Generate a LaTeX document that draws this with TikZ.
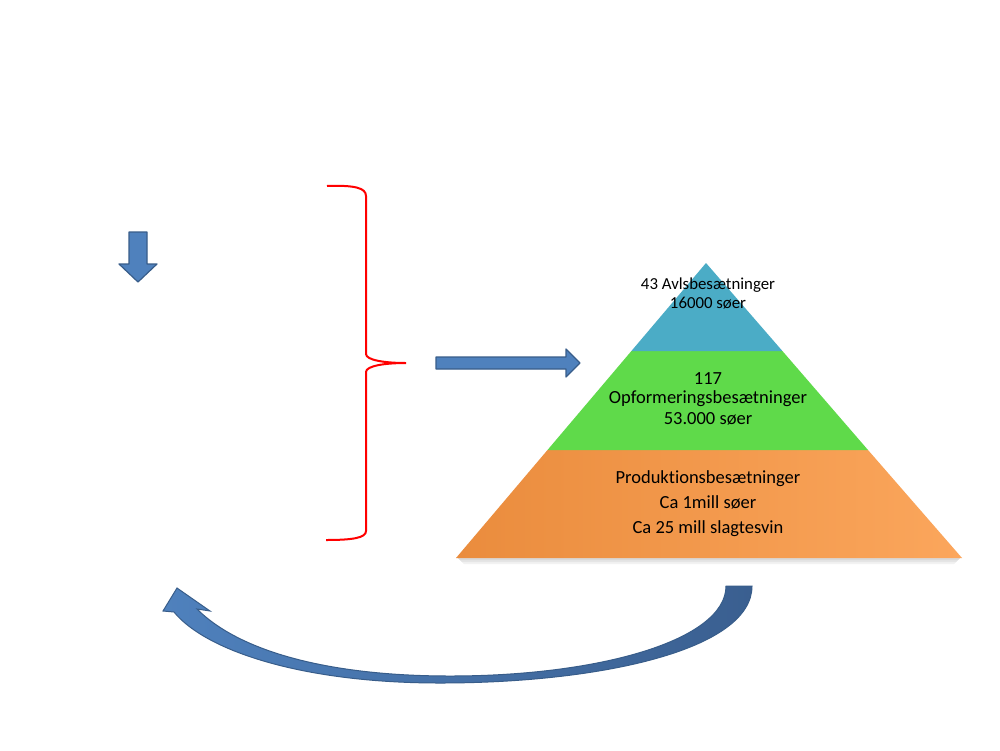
\documentclass[tikz,border=0pt]{standalone}
\usepackage{fontspec}
\setmainfont{Carlito}[Ligatures=NoCommon]
\definecolor{arrowblue}{HTML}{4F81BD}
\definecolor{arrowdark}{HTML}{3A5F90}
\definecolor{arrowedge}{HTML}{385D8A}
\definecolor{topblue}{HTML}{4BACC6}
\definecolor{midgreen}{HTML}{5FDA4A}
\definecolor{lowleft}{HTML}{EA8C3D}
\definecolor{lowright}{HTML}{FBA65C}
\begin{document}
\begin{tikzpicture}[x=1pt,y=-1pt,
  blockarrow/.style={fill=arrowblue,draw=arrowedge,line width=1.2pt,line join=round},
  lvl/.style={font=\fontsize{18.5}{22}\selectfont,inner sep=0pt,anchor=base},
  toplvl/.style={font=\fontsize{16.8}{19}\selectfont,inner sep=0pt,anchor=base}]

\fill[white] (0,0) rectangle (1000,750);
\useasboundingbox (0,0) rectangle (1000,750);

\draw[blockarrow] (129,232)--(147,232)--(147,264)--(157,264)--(138,282)--(119,264)--(129,264)--cycle;

\draw[red,line width=2pt] (327,186) .. controls (355,185) and (366,188) .. (366,196)
  -- (366,354) .. controls (366,360) and (384,363) .. (406,363)
  .. controls (384,363) and (366,366) .. (366,372)
  -- (366,531) .. controls (366,538) and (352,540) .. (326,540);

\draw[blockarrow] (436,357)--(566,357)--(566,349)--(580,363)--(566,377)--(566,369)--(436,369)--cycle;

\foreach \d in {2,4,6}
{
\fill[black,opacity=0.05] (458,558)--(960,558)--(960-\d,558+\d)--(458+\d,558+\d)--cycle;
}
\shade[left color=lowleft,right color=lowright] (547.5,450)--(868,450)--(962,558)--(456,558)--cycle;
\fill[midgreen] (631.4,351)--(782.4,351)--(868,450)--(547.5,450)--cycle;
\fill[topblue] (706,263)--(782.4,351)--(631.4,351)--cycle;

\node[toplvl] (avl) at (708,289) {43 Avlsbesætninger};
\node[toplvl] (avlsoer) at (708,308.5) {16000 søer};
\node[lvl] (opfnum) at (708,384.5) {117};
\node[lvl] (opf) at (708,403.5) {Opformeringsbesætninger};
\node[lvl] (opfsoer) at (708,424.5) {53.000 søer};
\node[lvl] (prod) at (708,483) {Produktionsbesætninger};
\node[lvl] (prodsoer) at (708,508) {Ca 1mill søer};
\node[lvl] (prodslagt) at (708,533) {Ca 25 mill slagtesvin};

\draw[draw=arrowedge,line width=1pt,left color=arrowblue,right color=arrowdark]
  (752,586) .. controls (752,650) and (600,683) .. (440,683)
  .. controls (300,683) and (205,650) .. (174,612)
  -- (163,611) -- (177,588) -- (210,611) -- (197,609)
  .. controls (240,652) and (330,676) .. (450,676)
  .. controls (600,676) and (726,640) .. (726,586) -- cycle;

\end{tikzpicture}
\end{document}
